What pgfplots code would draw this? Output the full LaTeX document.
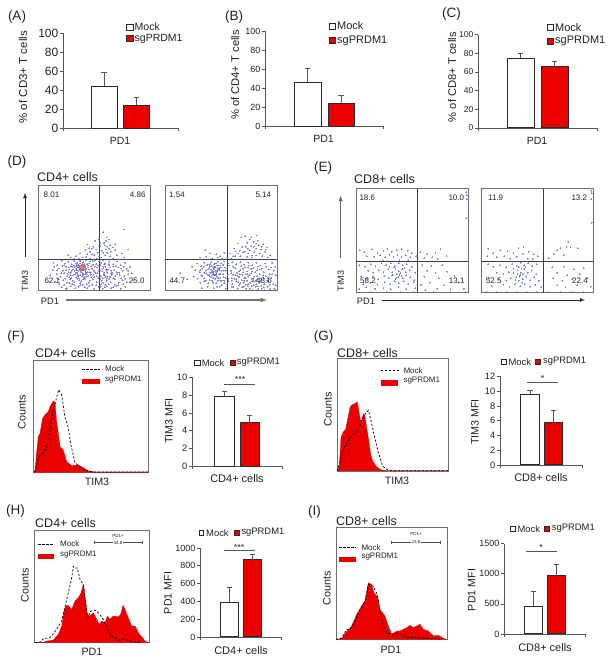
\documentclass[border=0pt]{standalone}
\usepackage{fontspec}
\setmainfont{Liberation Sans}
\usepackage{pgfplots}
\pgfplotsset{compat=1.18}

\definecolor{axgray}{HTML}{555555}
\definecolor{barline}{HTML}{2A2A2A}
\definecolor{boxgray}{HTML}{6E6E6E}
\definecolor{tcol}{HTML}{222222}
\definecolor{dotblue}{HTML}{5A5AF0}
\colorlet{sgred}{red!92!black}

\newcommand{\fs}[1]{\fontsize{#1}{#1}\selectfont}
% text nodes, given in reference pixels (inside the scope with x=1pt, y=-1pt)
\newcommand{\lab}[5][center]{\node[anchor=#1,font=\fs{#4},inner sep=0pt,text=tcol] at (#2,#3) {#5};}
\newcommand{\rlab}[4]{\node[rotate=90,font=\fs{#3},inner sep=0pt,text=tcol] at (#1,#2) {#4};}
\newcommand{\sq}[5]{\draw[draw=barline,fill=#5,line width=0.8pt] (#1,#2) rectangle (#3,#4);}
\newcommand{\redkey}[4]{\fill[sgred] (#1,#2) rectangle (#3,#4);}
\newcommand{\dashkey}[3]{\draw[black,line width=0.7pt,dash pattern=on 2.2pt off 1.8pt] (#1,#3) -- (#2,#3);}

\pgfplotsset{
  barax/.style={scale only axis, axis x line=bottom, axis y line=left,
    axis line style={-,draw=axgray,line width=0.9pt},
    tick style={draw=axgray,line width=0.7pt}, tick align=outside, major tick length=3pt,
    xticklabels={,,}, ymin=0, clip=false,
    /pgf/number format/assume math mode=true, /pgf/number format/1000 sep={},
    yticklabel style={text=tcol,inner sep=1.5pt}},
  bar1/.style={ybar, bar shift=0pt, draw=barline, fill=white, line width=1pt,
    error bars/y dir=plus, error bars/y explicit,
    error bars/error bar style={draw=axgray,line width=0.8pt},
    error bars/error mark options={draw=axgray,line width=0.8pt,mark size=2.6pt,rotate=90}},
  bar2/.style={bar1, fill=sgred},
  flowax/.style={scale only axis, width=112pt, height=105pt,
    xtick=\empty, ytick=\empty, y dir=reverse, axis line style={draw=boxgray,line width=0.9pt}, clip=true},
  flowdots/.style={only marks, mark=*, mark size=0.42pt, color=dotblue,
    mark options={solid, draw=dotblue, fill=dotblue, line width=0pt, opacity=0.38}},
  qline/.style={draw=black!75, line width=0.9pt},
  histax/.style={scale only axis, xtick=\empty, ytick=\empty, ymin=0, ymax=337,
    axis line style={draw=boxgray,line width=0.9pt}, clip=true},
  redhist/.style={draw=sgred, fill=sgred, line width=0.3pt},
  mockhist/.style={draw=black, line width=0.7pt, dash pattern=on 2.2pt off 1.8pt}
}

\begin{document}
\begin{tikzpicture}
\path[use as bounding box] (0pt,0pt) rectangle (611pt,663pt);

%% ---------- A ----------
\begin{axis}[barax, at={(63pt,534.7pt)}, anchor=south west, width=115pt, height=95pt,
  xmin=63, xmax=178, xtick={63,178}, ymax=100, ytick={0,20,40,60,80,100},
  yticklabel style={font=\fs{12}}]
\addplot[bar1, bar width=26pt] coordinates {(104,44) +- (0,14.5)};
\addplot[bar2, bar width=26pt] coordinates {(136.5,24.5) +- (0,7.5)};
\end{axis}

%% ---------- B ----------
\begin{axis}[barax, at={(265pt,536.7pt)}, anchor=south west, width=118pt, height=95pt,
  xmin=265, xmax=383, xtick={265,383}, ymax=100, ytick={0,20,40,60,80,100},
  yticklabel style={font=\fs{9}}]
\addplot[bar1, bar width=27pt] coordinates {(307.5,46.5) +- (0,14.5)};
\addplot[bar2, bar width=26pt] coordinates {(341,24) +- (0,9)};
\end{axis}

%% ---------- C ----------
\begin{axis}[barax, at={(478pt,535pt)}, anchor=south west, width=119pt, height=93.3pt,
  xmin=478, xmax=597, xtick={478,597}, ymax=100, ytick={0,20,40,60,80,100},
  yticklabel style={font=\fs{8.5}}]
\addplot[bar1, bar width=27pt] coordinates {(520.5,74.5) +- (0,5.5)};
\addplot[bar2, bar width=27pt] coordinates {(554.5,65.5) +- (0,5.5)};
\end{axis}

%% ---------- D ----------
\begin{axis}[flowax, at={(38pt,372.3pt)}, anchor=south west, xmin=114, xmax=450, ymin=106, ymax=422]
\addplot[flowdots] coordinates {
(310,246)(372,238)(320,262)(328,268)(296,268)(312,278)(285,272)(330,285)(322,290)(280,290)(300,288)(345,282)(318,272)(262,283)
(255,300)(270,305)(288,298)(305,302)(318,298)(332,305)(345,300)(240,310)(228,318)(262,312)(282,315)(298,318)(315,315)(330,318)(350,315)(212,322)(248,322)(270,325)(205,315)(365,310)(385,298)(293,308)(275,296)(322,308)(338,292)
(160,338)(172,345)(185,332)(195,340)(205,335)(215,342)(222,332)(232,338)(240,330)(250,336)(258,331)(268,340)(278,333)(288,342)(298,335)(308,330)(316,341)(328,335)(340,342)(352,334)(362,345)(375,338)(390,350)
(178,355)(188,362)(198,350)(208,358)(216,350)(224,362)(230,348)(238,356)(244,346)(250,360)(256,350)(262,342)(268,358)(274,348)(282,362)(290,352)(300,360)(310,350)(320,362)(330,352)(342,360)(355,352)(368,362)(380,356)
(170,372)(182,380)(192,370)(202,378)(212,368)(220,376)(228,368)(235,378)(243,366)(250,374)(257,367)(264,378)(272,368)(280,376)(292,370)(302,378)(312,368)(322,380)(333,370)(345,378)(358,368)(372,378)(385,372)
(165,395)(178,402)(190,390)(200,398)(210,388)(222,396)(232,386)(244,394)(255,386)(266,398)(278,388)(290,396)(300,388)(310,398)(320,386)(332,396)(344,388)(356,398)(368,390)(380,396)
(185,412)(198,416)(212,408)(226,414)(240,406)(254,412)(268,408)(282,416)(296,410)(308,416)(320,408)(334,414)(348,408)(362,416)(376,410)
(230,345)(238,350)(246,342)(252,354)(228,356)(236,362)(244,358)(250,346)(258,356)(240,340)(224,350)(232,368)(248,370)(256,362)(264,352)(218,358)(212,348)(206,366)(268,366)(276,356)(284,350)(260,372)(240,376)(226,372)(252,382)(236,384)(214,384)(274,382)(206,352)(198,360)
(300,345)(308,356)(316,350)(322,368)(314,376)(306,364)(328,346)(334,362)(320,392)(308,384)(296,362)(340,350)(330,380)(304,402)(316,404)(344,404)(240,400)(222,404)(208,400)(200,414)(260,402)(176,388)(158,360)(150,375)(395,370)(400,390)
(246,349)(242,354)(250,352)(238,346)(254,346)(246,360)(234,352)(242,362)(256,358)(230,360)
(192,345)(203,372)(215,362)(227,340)(235,344)(241,334)(253,342)(262,366)(270,334)(279,344)(286,368)(294,346)(303,338)(311,374)(319,357)(326,342)(337,368)(347,348)(359,376)(371,350)
(184,370)(196,386)(208,382)(218,392)(229,382)(238,390)(249,388)(259,380)(269,392)(283,382)(295,384)(305,392)(315,382)(327,388)(339,384)(351,372)(363,384)(376,386)
(172,360)(163,350)(186,348)(212,376)(221,346)(233,374)(247,378)(255,372)(265,346)(272,374)(290,378)(298,352)(313,342)(325,358)(335,374)(350,366)(364,356)(384,362)
(192,404)(216,402)(236,410)(248,404)(262,414)(276,404)(288,406)(302,410)(314,412)(326,402)(340,412)(354,406)(370,402)
(304,322)(286,330)(276,312)(310,308)(328,296)(300,278)(292,326)(258,320)(236,326)(222,326)(340,326)(356,328)(372,322)(268,294)(314,286)
};
\addplot[only marks, mark=*, mark size=0.6pt, color=orange!80!red, mark options={solid, line width=0pt, opacity=0.45}] coordinates {(243,350)(248,356)(240,358)(252,349)(246,345)};
\addplot[qline] coordinates {(298,106)(298,422)};
\addplot[qline] coordinates {(114,328)(450,328)};
\end{axis}
\begin{axis}[flowax, at={(165pt,372.3pt)}, anchor=south west, xmin=494, xmax=830, ymin=106, ymax=422]
\addplot[flowdots] coordinates {
(722,262)(735,258)(748,268)(770,256)(760,275)(775,285)(788,282)(800,292)(712,280)(725,290)(740,278)(752,288)(768,295)(782,298)(702,295)(718,302)(733,305)(748,300)(762,306)(778,310)(795,305)(810,315)(690,310)(705,318)(720,318)
(614,300)(628,310)(648,312)(660,318)(672,308)(600,322)(618,320)(636,325)(652,322)(665,326)(680,322)(692,325)(740,320)(755,322)
(575,350)(590,340)(602,348)(612,338)(622,344)(632,336)(642,342)(652,335)(662,340)(672,334)(684,340)(696,336)(708,342)(720,336)(732,344)(744,338)(756,345)(768,338)(780,346)(795,340)(815,338)(825,350)
(540,370)(585,360)(598,366)(606,356)(616,362)(626,354)(636,362)(644,352)(652,360)(660,352)(670,362)(680,354)(692,362)(704,354)(716,364)(728,356)(740,364)(752,356)(764,366)(778,358)(790,366)(805,358)(820,362)
(560,388)(580,380)(592,386)(602,376)(612,384)(622,374)(632,382)(640,372)(650,380)(660,372)(670,382)(682,374)(694,384)(706,376)(716,382)(726,374)(736,384)(748,376)(758,386)(770,378)(782,386)(796,378)(812,384)(826,376)
(600,398)(612,394)(624,400)(636,392)(648,400)(660,392)(672,400)(684,394)(696,402)(708,394)(720,400)(732,392)(744,402)(756,394)(768,402)(780,394)(792,402)(804,394)(818,402)
(604,414)(622,410)(640,414)(658,410)(676,416)(694,410)(712,416)(730,410)(748,416)(766,410)(784,416)(802,410)(822,416)
(634,348)(642,354)(650,346)(656,356)(640,364)(648,368)(656,372)(630,368)(622,358)(664,362)(660,346)(628,348)(636,374)(646,376)(654,384)(638,384)(628,378)(618,370)(668,372)(674,352)(644,340)(612,368)(606,378)(676,384)(664,392)
(720,360)(728,366)(736,372)(744,380)(752,370)(760,380)(732,384)(724,390)(740,392)(750,398)(760,394)(770,388)(712,378)(702,386)(692,370)(778,372)(770,360)(744,352)(756,364)(788,376)(800,392)(808,372)(694,392)(716,406)(736,404)(760,406)(782,408)
(640,358)(646,362)(652,354)(644,350)(638,368)(650,364)(658,360)(632,358)(648,372)(642,376)
(738,416)(756,420)(774,418)(792,420)(810,418)(826,420)
(620,346)(630,342)(638,352)(648,340)(654,346)(662,352)(668,344)(676,362)(686,346)(698,350)(710,368)(722,348)(734,352)(746,346)(758,354)(772,350)(784,356)(798,350)(812,352)
(600,360)(610,350)(626,376)(634,366)(644,386)(652,392)(660,384)(672,392)(684,386)(698,374)(708,388)(718,372)(730,398)(742,372)(754,386)(766,392)(776,398)(790,384)(802,384)(816,372)
(616,392)(628,390)(638,398)(650,410)(664,406)(680,402)(698,412)(714,396)(726,412)(742,408)(754,408)(772,408)(790,412)(808,404)(826,406)
(760,290)(772,272)(784,290)(796,298)(742,296)(728,306)(714,310)(698,318)(706,304)(768,316)(756,316)(786,318)(802,322)(744,310)(736,290)(752,262)(768,280)
};
\addplot[qline] coordinates {(680,106)(680,422)};
\addplot[qline] coordinates {(494,328)(830,328)};
\end{axis}

%% ---------- E ----------
\begin{axis}[flowax, at={(356.3pt,370.3pt)}, anchor=south west, height=104pt, xmin=169, xmax=503, ymin=116, ymax=428]
\addplot[flowdots] coordinates {
(180,300)(192,306)(215,298)(232,310)(250,302)(262,296)(275,305)(290,300)(305,298)(322,302)(335,310)(360,306)(380,312)(405,308)(420,298)
(200,318)(222,320)(240,316)(255,322)(268,314)(280,320)(292,316)(304,322)(316,315)(330,322)(348,318)(372,325)(395,322)(412,328)(438,318)
(178,345)(196,350)(212,342)(226,348)(244,340)(258,346)(272,340)(284,348)(296,340)(308,346)(320,342)(335,350)(365,345)(392,348)(425,345)
(205,362)(220,368)(236,360)(250,366)(264,358)(276,366)(286,358)(296,364)(306,358)(316,366)(328,360)(345,368)(380,362)(405,370)(440,365)
(184,378)(200,385)(218,380)(234,388)(252,378)(266,384)(278,376)(288,384)(298,376)(308,384)(318,376)(330,382)(342,390)(372,380)(415,385)(462,378)
(190,402)(212,398)(232,404)(254,396)(270,402)(284,394)(296,400)(310,394)(324,402)(340,396)(362,404)(388,398)(430,406)(475,396)
(178,418)(198,412)(225,416)(250,414)(272,418)(295,412)(318,418)(345,414)(375,420)(410,416)(450,418)(490,416)
(210,426)(260,426)(300,426)(340,426)(400,426)(450,426)(495,426)
(282,352)(290,372)(300,370)(294,382)(286,388)(304,378)(312,354)(276,376)(268,350)(284,334)(298,330)(262,334)(248,332)(324,330)(497,126)(498,135)(497,205)(498,148)
};
\addplot[qline] coordinates {(352,116)(352,428)};
\addplot[qline] coordinates {(169,335)(503,335)};
\end{axis}
\begin{axis}[flowax, at={(481.3pt,370.3pt)}, anchor=south west, height=104pt, xmin=544, xmax=878, ymin=116, ymax=428]
\addplot[flowdots] coordinates {
(803,275)(798,290)(780,295)(770,300)(810,292)(832,295)(760,312)(790,315)(745,325)(565,296)(580,310)(600,300)(622,304)(640,310)(655,295)(670,292)(685,305)(700,312)(562,318)(590,322)(612,318)(630,326)(650,320)(668,312)(682,326)(698,328)(712,318)
(565,342)(580,350)(600,345)(618,352)(636,342)(650,348)(662,338)(672,345)(684,340)(696,348)(710,342)(755,352)(790,350)(820,358)(850,355)
(590,368)(610,372)(626,366)(640,370)(652,360)(662,368)(672,358)(682,368)(694,362)(708,372)(770,368)(800,375)(838,372)
(566,385)(596,388)(618,392)(632,384)(646,390)(658,380)(668,388)(678,380)(690,390)(702,382)(716,392)(758,385)(785,392)(815,388)(860,385)
(575,408)(610,404)(628,410)(645,402)(660,408)(674,402)(690,410)(705,404)(722,412)(770,405)(795,412)(830,405)(870,410)
(560,426)(590,426)(620,426)(650,426)(680,426)(710,426)(745,426)(780,426)(815,426)(850,426)
(656,352)(664,356)(652,372)(660,376)(668,372)(656,392)(666,398)(648,382)(640,356)(676,352)(872,122)(873,130)(872,148)(873,218)
};
\addplot[qline] coordinates {(728,116)(728,428)};
\addplot[qline] coordinates {(544,335)(878,335)};
\end{axis}

%% ---------- F ----------
\begin{axis}[histax, at={(33.3pt,190.7pt)}, anchor=south west, width=114.7pt, height=112.3pt, xmin=100, xmax=444]
\addplot[redhist] coordinates {(100,0)(105,5)(110,60)(115,107)(120,117)(128,162)(135,172)(145,182)(150,197)(160,214)(165,210)(170,152)(175,117)(180,77)(190,67)(200,32)(215,20)(235,22)(250,14)(265,4)(285,1)(444,1)} \closedcycle;
\addplot[mockhist] coordinates {(104,0)(112,30)(120,50)(130,60)(140,75)(150,130)(160,190)(165,205)(170,225)(176,248)(185,232)(195,165)(205,135)(212,85)(225,30)(240,15)(260,5)(280,1)(444,1)};
\end{axis}
\begin{axis}[barax, at={(192pt,196.7pt)}, anchor=south west, width=90pt, height=89pt,
  xmin=192, xmax=282, xtick={192,282}, ymax=10, ytick={0,2,4,6,8,10},
  yticklabel style={font=\fs{9.3}}]
\addplot[bar1, bar width=19.6pt] coordinates {(224.5,7.8) +- (0,0.6)};
\addplot[bar2, bar width=19.6pt] coordinates {(249.8,4.9) +- (0,0.85)};
\end{axis}

%% ---------- G ----------
\begin{axis}[histax, at={(337pt,192pt)}, anchor=south west, width=111.3pt, height=112.3pt, xmin=111, xmax=445]
\addplot[redhist] coordinates {(111,0)(118,15)(123,100)(130,118)(137,125)(145,165)(150,190)(155,198)(165,202)(172,208)(178,170)(183,145)(186,150)(190,172)(195,165)(200,130)(205,100)(212,50)(218,30)(230,12)(245,3)(260,1)(445,1)} \closedcycle;
\addplot[mockhist] coordinates {(111,0)(118,20)(125,50)(135,75)(150,100)(165,115)(178,125)(185,155)(195,170)(205,182)(212,155)(222,110)(235,55)(248,15)(260,5)(275,1)(445,1)};
\end{axis}
\begin{axis}[barax, at={(500pt,198pt)}, anchor=south west, width=82.7pt, height=88.7pt,
  xmin=500, xmax=582.7, xtick={500,582.7}, ymax=12, ytick={0,2,4,6,8,10,12},
  yticklabel style={font=\fs{9.3}}]
\addplot[bar1, bar width=18.6pt] coordinates {(530,9.6) +- (0,0.45)};
\addplot[bar2, bar width=18.4pt] coordinates {(553.5,5.7) +- (0,1.65)};
\end{axis}

%% ---------- H ----------
\begin{axis}[histax, at={(34.7pt,20.3pt)}, anchor=south west, width=114.3pt, height=112pt, xmin=104, xmax=447]
\addplot[redhist] coordinates {(104,0)(130,1)(140,5)(160,8)(175,25)(185,50)(192,95)(198,112)(205,112)(215,100)(225,125)(235,135)(243,150)(250,175)(255,140)(262,85)(270,80)(280,90)(290,70)(298,55)(305,65)(315,60)(322,80)(330,70)(340,80)(355,78)(362,85)(369,113)(377,95)(385,75)(395,50)(405,50)(415,30)(425,18)(435,5)(445,0)} \closedcycle;
\addplot[mockhist] coordinates {(104,0)(120,2)(130,12)(150,15)(170,40)(185,65)(195,110)(205,150)(215,195)(220,230)(225,225)(232,225)(240,190)(250,175)(256,120)(263,75)(272,95)(285,98)(295,90)(310,70)(325,35)(340,15)(355,8)(375,10)(395,3)(420,0)};
\end{axis}
\begin{axis}[barax, at={(200pt,26pt)}, anchor=south west, width=81pt, height=89pt,
  xmin=200, xmax=281, xtick={200,281}, ymax=1000, ytick={0,200,400,600,800,1000},
  yticklabel style={font=\fs{9}}]
\addplot[bar1, bar width=18pt] coordinates {(229.7,390) +- (0,165)};
\addplot[bar2, bar width=18pt] coordinates {(252.3,870) +- (0,60)};
\end{axis}

%% ---------- I ----------
\begin{axis}[histax, at={(336pt,23.7pt)}, anchor=south west, width=111pt, height=112pt, xmin=108, xmax=441]
\addplot[redhist] coordinates {(108,0)(125,2)(135,18)(145,28)(155,40)(170,75)(185,100)(195,115)(205,170)(215,165)(222,140)(232,130)(240,90)(255,70)(265,40)(275,15)(290,25)(300,25)(310,30)(320,35)(330,42)(340,35)(350,40)(360,45)(370,30)(385,25)(400,10)(415,12)(430,3)(440,0)} \closedcycle;
\addplot[mockhist] coordinates {(108,0)(125,3)(140,30)(150,30)(165,55)(180,90)(195,115)(205,165)(220,160)(232,135)(240,85)(250,40)(262,18)(280,15)(295,20)(310,10)(330,5)(360,4)(385,2)(420,1)};
\end{axis}
\begin{axis}[barax, at={(504pt,29pt)}, anchor=south west, width=81pt, height=90.3pt,
  xmin=504, xmax=585, xtick={504,585}, ymax=1500, ytick={0,500,1000,1500},
  yticklabel style={font=\fs{9}}]
\addplot[bar1, bar width=18pt] coordinates {(533.7,460) +- (0,240)};
\addplot[bar2, bar width=18.4pt] coordinates {(556.5,970) +- (0,180)};
\end{axis}

%% ---------- all labels, in reference pixels ----------
\begin{scope}[x=1pt,y=-1pt,yshift=663pt]
% A
\lab{17}{16.7}{13.5}{(A)}
\rlab{23}{77.3}{11.5}{\% of CD3+ T cells}
\lab{120}{141}{10.5}{PD1}
\sq{126}{24.7}{133}{30.7}{white}
\sq{126}{35.5}{133}{41.5}{sgred}
\lab[west]{134.5}{27.2}{10.5}{Mock}
\lab[west]{134.5}{38.5}{10.5}{sgPRDM1}
% B
\lab{234}{16.7}{13.5}{(B)}
\rlab{235}{75}{11.2}{\% of CD4+ T cells}
\lab{323.5}{139.3}{10.5}{PD1}
\sq{329}{23}{335.5}{29}{white}
\sq{329}{37.7}{335.5}{43.7}{sgred}
\lab[west]{337}{26}{11}{Mock}
\lab[west]{337}{40.7}{11}{sgPRDM1}
% C
\lab{451.5}{14}{13.5}{(C)}
\rlab{452}{77.3}{11.2}{\% of CD8+ T cells}
\lab{537}{141}{10.5}{PD1}
\sq{547}{24.3}{553.5}{30.3}{white}
\sq{547}{38.3}{553.5}{44.3}{sgred}
\lab[west]{555}{27.3}{11}{Mock}
\lab[west]{555}{41.3}{11}{sgPRDM1}
% D
\lab{17}{162}{13.5}{(D)}
\lab[west]{37}{177}{12.5}{CD4+ cells}
\lab{51.5}{195.2}{8}{8.01}
\lab{137.7}{195.2}{8}{4.86}
\lab{52.3}{281}{8}{62.1}
\lab{136.7}{281}{8}{25.0}
\lab{177}{195.2}{8}{1.54}
\lab{263.3}{195.2}{8}{5.14}
\lab{177.3}{281}{8}{44.7}
\lab{264}{281}{8}{48.6}
\draw[-{latex},black!85,line width=0.8pt] (25,257) -- (25,193);
\rlab{25}{281}{9}{TIM3}
\lab{50}{301}{9.3}{PD1}
\draw[-{latex},black!55,line width=1.2pt] (66,300) -- (267,300);
% E
\lab{323}{168}{13.5}{(E)}
\lab[west]{354}{179}{12.5}{CD8+ cells}
\lab{367.3}{198}{8}{18.6}
\lab{456.3}{198}{8}{10.0}
\lab{368}{281}{8}{58.2}
\lab{456.7}{281}{8}{13.1}
\lab{495.7}{198}{8}{11.9}
\lab{579.3}{198}{8}{13.2}
\lab{493.7}{281}{8}{52.5}
\lab{580}{281}{8}{22.4}
\draw[-{latex},black!60,line width=0.9pt] (340.7,258) -- (340.7,195.7);
\rlab{340.7}{281}{9}{TIM3}
\lab{366}{301}{9.3}{PD1}
\draw[-{latex},black!85,line width=0.8pt] (382,300) -- (585,300);
% F
\lab{16}{337}{13.5}{(F)}
\lab[west]{35}{353.5}{12.5}{CD4+ cells}
\dashkey{82.3}{100}{369}
\redkey{82.3}{378.7}{100}{384.3}
\lab[west]{105}{369}{8}{Mock}
\lab[west]{105}{379.3}{8}{sgPRDM1}
\rlab{22}{412}{10.8}{Counts}
\lab{97}{482}{10.7}{TIM3}
\sq{194.7}{360}{200}{365.5}{white}
\sq{230}{360}{235}{365.5}{sgred}
\lab[west]{201.7}{362.7}{9.4}{Mock}
\lab[west]{236.7}{362.7}{9.4}{sgPRDM1}
\draw[axgray,line width=0.8pt] (224,384.3) -- (255,384.3);
\lab{240}{379}{9}{***}
\rlab{169}{421}{10.7}{TIM3 MFI}
\lab{237}{479}{11}{CD4+ cells}
% G
\lab{323.5}{337}{13.5}{(G)}
\lab[west]{337}{353}{12.5}{CD8+ cells}
\dashkey{381}{398.7}{370.7}
\redkey{381}{380}{398.3}{385.7}
\lab[west]{403.3}{370.7}{8}{Mock}
\lab[west]{403.3}{381}{8}{sgPRDM1}
\rlab{328}{409}{10.8}{Counts}
\lab{397}{481}{10.7}{TIM3}
\sq{501.3}{359}{506}{364.4}{white}
\sq{535.7}{359}{540.7}{364.4}{sgred}
\lab[west]{508.3}{361.7}{9.4}{Mock}
\lab[west]{543}{361.7}{9.4}{sgPRDM1}
\draw[axgray,line width=0.8pt] (527,382.7) -- (558,382.7);
\lab{542.7}{378.5}{9}{*}
\rlab{475}{422}{10.7}{TIM3 MFI}
\lab{541}{478}{11}{CD8+ cells}
% H
\lab{15.5}{511}{13.5}{(H)}
\lab[west]{35}{523.5}{12.5}{CD4+ cells}
\dashkey{38.3}{54.3}{544}
\redkey{38.3}{554}{54.3}{559.3}
\lab[west]{60}{544}{8}{Mock}
\lab[west]{60}{554.3}{8}{sgPRDM1}
\draw[black!70,line width=0.6pt] (94.7,541) -- (94.7,544.4) (94.7,542.7) -- (142.7,542.7) (142.7,541) -- (142.7,544.4);
\lab{118}{536.3}{4.5}{PD1+}
\node[fill=white,inner sep=0.5pt,font=\fs{4.5},text=tcol] at (118,542.7) {44.8};
\rlab{25}{585}{10.8}{Counts}
\lab{92}{652}{10.7}{PD1}
\sq{199}{530}{203.7}{535.4}{white}
\sq{234.3}{530}{239.3}{535.4}{sgred}
\lab[west]{206}{532.7}{9.4}{Mock}
\lab[west]{241.3}{532.7}{9.4}{sgPRDM1}
\draw[axgray,line width=0.8pt] (224,550.7) -- (255,550.7);
\lab{239}{547}{9}{***}
\rlab{168}{593}{10.7}{PD1 MFI}
\lab{241}{650.7}{11}{CD4+ cells}
% I
\lab{314.5}{512}{13.5}{(I)}
\lab[west]{336}{521}{12.5}{CD8+ cells}
\dashkey{339.3}{356}{547.3}
\redkey{339.3}{556.7}{356}{562.3}
\lab[west]{361.3}{547.3}{8}{Mock}
\lab[west]{361.3}{557}{8}{sgPRDM1}
\draw[black!70,line width=0.6pt] (391.3,541) -- (391.3,544.4) (391.3,542.7) -- (440.7,542.7) (440.7,541) -- (440.7,544.4);
\lab{416}{534}{4.5}{PD1+}
\node[fill=white,inner sep=0.5pt,font=\fs{4.5},text=tcol] at (416,541.7) {23.6};
\rlab{327}{588}{10.8}{Counts}
\lab{391}{650}{10.7}{PD1}
\sq{510}{526}{515}{531.4}{white}
\sq{544.3}{526}{549.3}{531.4}{sgred}
\lab[west]{517.3}{528.7}{9.4}{Mock}
\lab[west]{551.7}{528.7}{9.4}{sgPRDM1}
\draw[axgray,line width=0.8pt] (526,551.3) -- (557,551.3);
\lab{541}{547}{9}{*}
\rlab{471.7}{590}{10.7}{PD1 MFI}
\lab{545}{647.7}{11}{CD8+ cells}
\end{scope}
\end{tikzpicture}
\end{document}
